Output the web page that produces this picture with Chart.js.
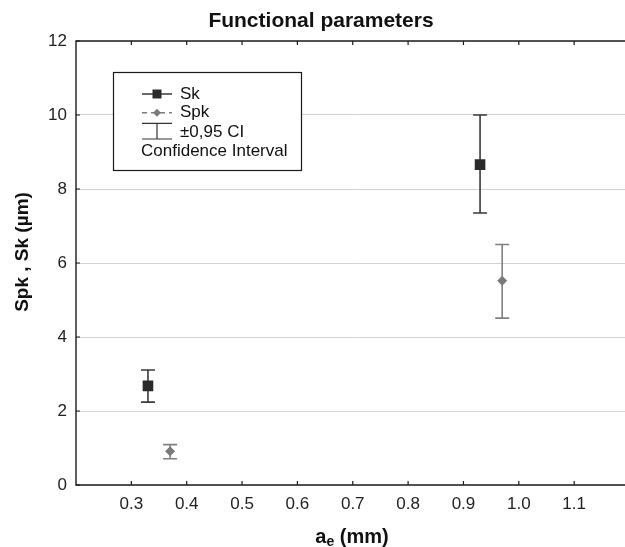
<!DOCTYPE html>
<html>
<head>
<meta charset="utf-8">
<script src="https://cdn.jsdelivr.net/npm/chart.js@4/dist/chart.umd.min.js"></script>
<style>
  html, body { margin: 0; padding: 0; background: #fff; overflow: hidden; }
  #wrap { width: 625px; height: 547px; position: relative; overflow: hidden; }
</style>
</head>
<body>
<div id="wrap"><canvas id="c" width="637" height="547"></canvas></div>
<script>
// Cutting depth a_e (mm) and mean values with ±0.95 confidence limits
const skX    = [0.33, 0.93];
const skY    = [2.68, 8.66];
const skLow  = [2.24, 7.35];
const skHigh = [3.11, 10.0];

const spkX    = [0.37, 0.97];
const spkY    = [0.91, 5.52];
const spkLow  = [0.71, 4.51];
const spkHigh = [1.09, 6.50];

const xTickValues = [0.3, 0.4, 0.5, 0.6, 0.7, 0.8, 0.9, 1.0, 1.1];
const yTickValues = [0, 2, 4, 6, 8, 10, 12];

const FONT = '"Liberation Sans", Arial, Helvetica, sans-serif';
const SK_COLOR = '#2a2a2a';
const SPK_COLOR = '#7a7a7a';

const errorBars = [
  { xs: skX, lo: skLow, hi: skHigh, color: '#3a3a3a', cap: 14, width: 1.6 },
  { xs: spkX, lo: spkLow, hi: spkHigh, color: '#808080', cap: 14, width: 1.6 }
];

// Whiskers for the confidence intervals, positioned through the scales
const errorBarPlugin = {
  id: 'errorBars',
  beforeDatasetsDraw(chart) {
    const ctx = chart.ctx, xs = chart.scales.x, ys = chart.scales.y;
    ctx.save();
    errorBars.forEach(set => {
      ctx.strokeStyle = set.color;
      ctx.lineWidth = set.width;
      set.xs.forEach((xv, i) => {
        const px = xs.getPixelForValue(xv);
        const pLo = ys.getPixelForValue(set.lo[i]);
        const pHi = ys.getPixelForValue(set.hi[i]);
        ctx.beginPath();
        ctx.moveTo(px, pLo); ctx.lineTo(px, pHi);
        ctx.moveTo(px - set.cap / 2, pLo); ctx.lineTo(px + set.cap / 2, pLo);
        ctx.moveTo(px - set.cap / 2, pHi); ctx.lineTo(px + set.cap / 2, pHi);
        ctx.stroke();
      });
    });
    ctx.restore();
  }
};

// Frame, inward ticks, titles and the legend box
const decorPlugin = {
  id: 'decor',
  afterDraw(chart) {
    const ctx = chart.ctx, a = chart.chartArea;
    const xs = chart.scales.x, ys = chart.scales.y;
    ctx.save();
    ctx.strokeStyle = '#1a1a1a';
    ctx.lineWidth = 1.4;
    // axes frame (left, bottom, top)
    ctx.beginPath();
    ctx.moveTo(a.right, a.top); ctx.lineTo(a.left, a.top);
    ctx.lineTo(a.left, a.bottom); ctx.lineTo(a.right, a.bottom);
    ctx.stroke();
    // inward tick marks
    ctx.lineWidth = 1.2;
    ctx.beginPath();
    xTickValues.forEach(v => {
      const px = xs.getPixelForValue(v);
      ctx.moveTo(px, a.bottom); ctx.lineTo(px, a.bottom - 4);
      ctx.moveTo(px, a.top); ctx.lineTo(px, a.top + 4);
    });
    yTickValues.forEach(v => {
      const py = ys.getPixelForValue(v);
      ctx.moveTo(a.left, py); ctx.lineTo(a.left + 4, py);
    });
    ctx.stroke();

    // chart title
    ctx.fillStyle = '#111';
    ctx.font = 'bold 21px ' + FONT;
    ctx.textAlign = 'center';
    ctx.textBaseline = 'middle';
    ctx.fillText('Functional parameters', 321, 21);

    // x-axis title with subscript
    ctx.font = 'bold 20px ' + FONT;
    ctx.textAlign = 'left';
    ctx.textBaseline = 'alphabetic';
    const w1 = ctx.measureText('a').width;
    ctx.font = 'bold 14px ' + FONT;
    const w2 = ctx.measureText('e').width;
    ctx.font = 'bold 20px ' + FONT;
    const w3 = ctx.measureText(' (mm)').width;
    let x0 = 352 - (w1 + w2 + w3) / 2;
    const base = 543;
    ctx.fillText('a', x0, base);
    ctx.font = 'bold 14px ' + FONT;
    ctx.fillText('e', x0 + w1, base + 3);
    ctx.font = 'bold 20px ' + FONT;
    ctx.fillText(' (mm)', x0 + w1 + w2, base);

    // y-axis title
    ctx.save();
    ctx.translate(23, 252);
    ctx.rotate(-Math.PI / 2);
    ctx.textAlign = 'center';
    ctx.textBaseline = 'middle';
    ctx.font = 'bold 19px ' + FONT;
    ctx.fillText('Spk , Sk (\u00B5m)', 0, 0);
    ctx.restore();

    // legend box
    const L = 113, T = 72, R = 301, B = 170;
    ctx.fillStyle = '#fff';
    ctx.fillRect(L, T, R - L, B - T);
    ctx.strokeStyle = '#1a1a1a';
    ctx.lineWidth = 1.2;
    ctx.strokeRect(L + 0.5, T + 0.5, R - L, B - T);

    const sx0 = 142, sx1 = 172, sxc = 157;
    // Sk entry
    ctx.strokeStyle = SK_COLOR; ctx.lineWidth = 1.4;
    ctx.beginPath(); ctx.moveTo(sx0, 94); ctx.lineTo(sx1, 94); ctx.stroke();
    ctx.fillStyle = SK_COLOR;
    ctx.fillRect(sxc - 4.5, 94 - 4.5, 9, 9);
    // Spk entry
    ctx.strokeStyle = SPK_COLOR;
    ctx.setLineDash([5, 4]);
    ctx.beginPath(); ctx.moveTo(sx0, 112.7); ctx.lineTo(sx1, 112.7); ctx.stroke();
    ctx.setLineDash([]);
    ctx.fillStyle = SPK_COLOR;
    ctx.beginPath();
    ctx.moveTo(sxc, 112.7 - 4); ctx.lineTo(sxc + 4, 112.7);
    ctx.lineTo(sxc, 112.7 + 4); ctx.lineTo(sxc - 4, 112.7);
    ctx.closePath(); ctx.fill();
    // CI entry
    ctx.strokeStyle = '#333'; ctx.lineWidth = 1.2;
    ctx.beginPath();
    ctx.moveTo(sx0, 123.3); ctx.lineTo(sx1, 123.3);
    ctx.moveTo(sxc, 123.3); ctx.lineTo(sxc, 139);
    ctx.moveTo(sx0, 139); ctx.lineTo(sx1, 139);
    ctx.stroke();

    ctx.fillStyle = '#111';
    ctx.font = '17px ' + FONT;
    ctx.textAlign = 'left';
    ctx.textBaseline = 'middle';
    ctx.fillText('Sk', 180, 94);
    ctx.fillText('Spk', 180, 112.7);
    ctx.fillText('\u00B10,95 CI', 180, 132.7);
    ctx.fillText('Confidence Interval', 141, 151.7);
    ctx.restore();
  }
};

new Chart(document.getElementById('c'), {
  type: 'scatter',
  data: {
    datasets: [
      {
        label: 'Sk',
        data: skX.map((x, i) => ({ x: x, y: skY[i] })),
        pointStyle: 'rect',
        pointRadius: 7.5,
        backgroundColor: SK_COLOR,
        borderColor: SK_COLOR,
        borderWidth: 0
      },
      {
        label: 'Spk',
        data: spkX.map((x, i) => ({ x: x, y: spkY[i] })),
        pointStyle: 'rectRot',
        pointRadius: 5,
        backgroundColor: SPK_COLOR,
        borderColor: SPK_COLOR,
        borderWidth: 0
      }
    ]
  },
  options: {
    responsive: false,
    animation: false,
    events: [],
    layout: { padding: { top: 41, right: 0, left: 0, bottom: 0 } },
    plugins: { legend: { display: false }, title: { display: false }, tooltip: { enabled: false } },
    scales: {
      x: {
        type: 'linear',
        min: 0.2,
        max: 1.2,
        afterBuildTicks: s => { s.ticks = xTickValues.map(v => ({ value: v })); },
        afterFit: s => { s.height = 62; },
        grid: { display: false, drawTicks: false },
        border: { display: false },
        ticks: {
          padding: 9,
          color: '#222',
          font: { family: FONT, size: 17 },
          callback: v => v.toFixed(1),
          maxRotation: 0,
          autoSkip: false
        }
      },
      y: {
        type: 'linear',
        min: 0,
        max: 12,
        afterBuildTicks: s => { s.ticks = yTickValues.map(v => ({ value: v })); },
        afterFit: s => { s.width = 76; },
        grid: {
          drawTicks: false,
          color: ctx => (ctx.tick && (ctx.tick.value === 0 || ctx.tick.value === 12)) ? 'rgba(0,0,0,0)' : '#d2d2d2',
          lineWidth: 1
        },
        border: { display: false },
        ticks: {
          padding: 9,
          color: '#222',
          font: { family: FONT, size: 17 },
          callback: v => String(v)
        }
      }
    }
  },
  plugins: [errorBarPlugin, decorPlugin]
});
</script>
</body>
</html>
